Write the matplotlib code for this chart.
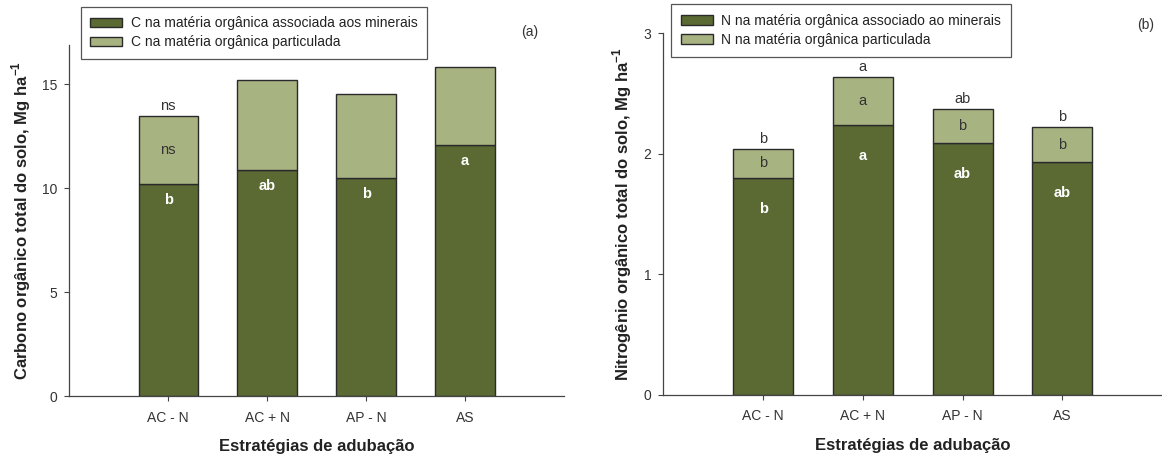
import matplotlib.pyplot as plt

plt.rcParams['font.family'] = ['Liberation Sans', 'DejaVu Sans']
plt.rcParams['mathtext.fontset'] = 'custom'
plt.rcParams['mathtext.rm'] = 'Liberation Sans'
plt.rcParams['mathtext.bf'] = 'Liberation Sans:bold'

estrategias = ['AC - N', 'AC + N', 'AP - N', 'AS']

# (a) carbono, Mg/ha
c_minerais = [10.2, 10.9, 10.5, 12.1]
c_total = [13.5, 15.2, 14.55, 15.85]
c_particulada = [t - m for t, m in zip(c_total, c_minerais)]
c_letras_min = ['b', 'ab', 'b', 'a']
c_letras_part = ['ns', '', '', '']
c_letras_total = ['ns', '', '', '']

# (b) nitrogenio, Mg/ha
n_minerais = [1.80, 2.24, 2.09, 1.93]
n_total = [2.04, 2.64, 2.37, 2.22]
n_particulada = [t - m for t, m in zip(n_total, n_minerais)]
n_letras_min = ['b', 'a', 'ab', 'ab']
n_letras_part = ['b', 'a', 'b', 'b']
n_letras_total = ['b', 'a', 'ab', 'b']

ESCURO = '#5b6a33'
CLARO = '#a8b382'
BORDA = '#2a2a2a'
TEXTO = '#333333'


def painel(ax, minerais, particulada, letras_min, letras_part, letras_total,
           leg, ylabel, ymax, yticks, tag, tag_xy, leg_xy, desloc_min, fig):
    pos = list(range(1, len(estrategias) + 1))
    b1 = ax.bar(pos, minerais, width=0.6, color=ESCURO, edgecolor=BORDA, linewidth=1.0,
                label=leg[0])
    b2 = ax.bar(pos, particulada, width=0.6, bottom=minerais, color=CLARO, edgecolor=BORDA,
                linewidth=1.0, label=leg[1])
    for x, m, p, lm, lp, lt in zip(pos, minerais, particulada, letras_min, letras_part, letras_total):
        if lm:
            ax.annotate(lm, (x, m), xytext=(0, -desloc_min), textcoords='offset points',
                        ha='center', va='center', color='white', fontweight='bold', fontsize=10.5)
        if lp:
            ax.text(x, m + p / 2, lp, ha='center', va='center', color=TEXTO, fontsize=10.5)
        if lt:
            ax.annotate(lt, (x, m + p), xytext=(0, 2), textcoords='offset points',
                        ha='center', va='bottom', color=TEXTO, fontsize=10.5)
    ax.set_xlim(0, 5)
    ax.set_ylim(0, ymax)
    ax.set_yticks(yticks)
    ax.set_xticks(pos)
    ax.set_xticklabels(estrategias)
    for s in ['top', 'right']:
        ax.spines[s].set_visible(False)
    for s in ['left', 'bottom']:
        ax.spines[s].set_color('#444444')
        ax.spines[s].set_linewidth(0.9)
    ax.tick_params(axis='y', length=3.6, width=0.8, color='#444444', pad=5,
                   labelsize=10, labelcolor=TEXTO)
    ax.tick_params(axis='x', length=3.6, width=0.8, color='#444444', pad=7,
                   labelsize=10, labelcolor=TEXTO)
    ax.set_ylabel(ylabel, fontsize=12, fontweight='bold', color='#222222')
    ax.set_xlabel('Estratégias de adubação', fontsize=12, fontweight='bold', color='#222222')
    ax.text(tag_xy[0], tag_xy[1], tag, transform=fig.transFigure, ha='center', va='center',
            fontsize=10, color=TEXTO)
    lg = ax.legend(handles=[b1, b2], loc='upper left', bbox_to_anchor=leg_xy,
                   bbox_transform=fig.transFigure, fontsize=10, fancybox=False,
                   edgecolor='#555555', framealpha=1, borderpad=0.7, handlelength=2.3,
                   handleheight=0.7, handletextpad=0.6, labelspacing=0.35, borderaxespad=0)
    lg.get_frame().set_linewidth(0.9)
    for t in lg.get_texts():
        t.set_color('#222222')


fig = plt.figure(figsize=(11.62, 4.57), dpi=100)
W, H = 1162, 457

ax1 = fig.add_axes([69.3 / W, (H - 396) / H, (564 - 69.3) / W, (396 - 45) / H])
painel(ax1, c_minerais, c_particulada, c_letras_min, c_letras_part, c_letras_total,
       ['C na matéria orgânica associada aos minerais', 'C na matéria orgânica particulada'],
       r'Carbono orgânico total do solo, Mg ha$^{\mathbf{-1}}$', 16.9, [0, 5, 10, 15],
       '(a)', (530 / W, 1 - 32 / H), (80.7 / W, 1 - 6.7 / H), 11.5, fig)
ax1.yaxis.set_label_coords(-0.074, 0.5)
ax1.xaxis.set_label_coords(0.5, -0.122)

ax2 = fig.add_axes([663.5 / W, (H - 394.7) / H, (1162 - 663.5) / W, (394.7 - 33.3) / H])
painel(ax2, n_minerais, n_particulada, n_letras_min, n_letras_part, n_letras_total,
       ['N na matéria orgânica associado ao minerais', 'N na matéria orgânica particulada'],
       r'Nitrogênio orgânico total do solo, Mg ha$^{\mathbf{-1}}$', 3, [0, 1, 2, 3],
       '(b)', (1146 / W, 1 - 25 / H), (671 / W, 1 - 4.3 / H), 22.5, fig)
ax2.yaxis.set_label_coords(-0.059, 0.5)
ax2.xaxis.set_label_coords(0.5, -0.12)

fig.savefig('out.png', dpi=100)
